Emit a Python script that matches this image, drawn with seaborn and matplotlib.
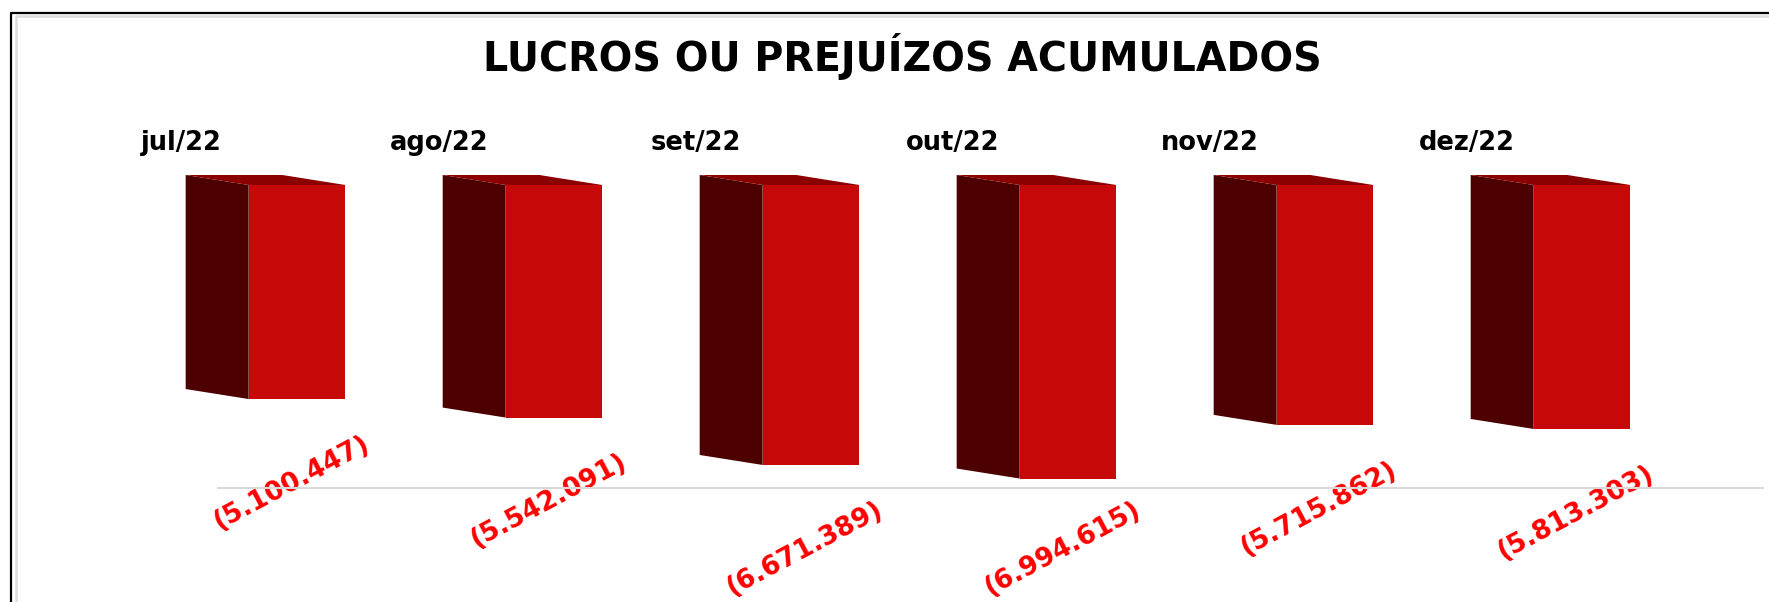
# imports
import matplotlib
matplotlib.use("Agg")
import matplotlib.pyplot as plt
from matplotlib.lines import Line2D
from matplotlib.patches import Polygon
import pandas as pd
import seaborn as sns

# chart values
meses = ["jul/22", "ago/22", "set/22", "out/22", "nov/22", "dez/22"]
valores = [-5100447, -5542091, -6671389, -6994615, -5715862, -5813303]

W, H = 1769, 602

sns.set_theme(style="white")
plt.rcParams["font.family"] = ["DejaVu Sans"]

df = pd.DataFrame({"mes": meses, "valor": valores})

fig = plt.figure(figsize=(W / 100, H / 100), dpi=100, facecolor="white")

# axes placed so the front faces of the bars land where they do in the picture
left, right, top, bottom = 168.5, 1710.5, 185, 488
escala = 7220000
piso_rotulo = -6671389  # labels stop here, the out/22 one does not go lower
ax = fig.add_axes([left / W, 1 - bottom / H, (right - left) / W, (bottom - top) / H])

sns.barplot(data=df, x="mes", y="valor", color="#C60808", saturation=1,
            width=0.376, ax=ax, zorder=3, linewidth=0, edgecolor="none")
ax.set_xlim(-0.5, 5.5)
ax.set_ylim(-escala, 0)
ax.set_xlabel("")
ax.set_ylabel("")
ax.set_xticks([])
ax.set_yticks([])
sns.despine(ax=ax, left=True, bottom=True)
ax.patch.set_alpha(0)

# fake 3d: side and top faces built from the bars
dx = 63 / 257
dy = 10 * escala / (bottom - top)
for bar in ax.patches[:len(valores)]:
    x0 = bar.get_x()
    x1 = x0 + bar.get_width()
    y = bar.get_height()
    ax.add_patch(Polygon([(x0, 0), (x0 - dx, dy), (x0 - dx, y + dy), (x0, y)],
                         facecolor="#4C0000", edgecolor="none", clip_on=False, zorder=2))
    ax.add_patch(Polygon([(x0, 0), (x0 - dx, dy), (x1 - dx, dy), (x1, 0)],
                         facecolor="#8B0000", edgecolor="none", clip_on=False, zorder=2))

    # value label under the bar
    v = int(round(y))
    ax.annotate(f"({abs(v):,})".replace(",", "."),
                xy=(x0 + bar.get_width() / 2, max(y, piso_rotulo)),
                xytext=(-4, -60), textcoords="offset points", rotation=28,
                ha="center", va="center", color="#FF0000", fontsize=19,
                fontweight="bold", rotation_mode="anchor", annotation_clip=False)

# month labels, up left of each bar
for i, mes in enumerate(meses):
    ax.annotate(mes, xy=(i, 0), xytext=(-83, 30), textcoords="offset points",
                ha="center", va="center", color="black", fontsize=18.5,
                fontweight="bold", annotation_clip=False)

# axis line, shifted by the depth of the chart
fig.add_artist(Line2D([218 / W, 1763 / W], [1 - 488 / H] * 2, color="#D9D9D9", lw=1.5))

fig.text(902 / W, 1 - 56 / H, "LUCROS OU PREJUÍZOS ACUMULADOS", ha="center", va="center",
         fontsize=28.5, fontweight="bold", color="black")

# frame of the pasted image, open on the right and at the bottom
fig.add_artist(Line2D([11 / W, 11 / W, 1], [0, 1 - 13 / H, 1 - 13 / H], color="black", lw=1.6))
fig.add_artist(Line2D([15.5 / W, 15.5 / W, 1], [0, 1 - 16 / H, 1 - 16 / H], color="#DDDDDD", lw=1.8))

fig.savefig("out.png", dpi=100)
